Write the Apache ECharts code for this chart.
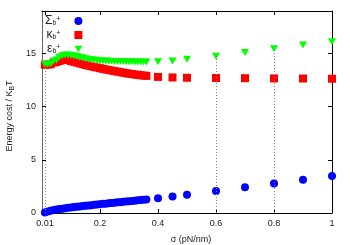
<!DOCTYPE html>
<html>
<head>
<meta charset="utf-8">
<script src="https://cdn.jsdelivr.net/npm/echarts@6/dist/echarts.min.js"></script>
<style>html,body{margin:0;padding:0;background:#fff}#c{width:350px;height:245px}</style>
</head>
<body>
<div id="c"></div>
<script>
const sigma = [0.01,0.02,0.03,0.04,0.05,0.06,0.07,0.08,0.09,0.10,0.11,0.12,0.13,0.14,0.15,0.16,0.17,0.18,0.19,0.20,0.21,0.22,0.23,0.24,0.25,0.26,0.27,0.28,0.29,0.30,0.31,0.32,0.33,0.34,0.35,0.36,0.40,0.45,0.50,0.60,0.70,0.80,0.90,1.00];
const sigmaB = [0.05,0.15,0.22,0.28,0.33,0.37,0.41,0.45,0.49,0.52,0.56,0.59,0.62,0.65,0.68,0.71,0.74,0.77,0.80,0.83,0.86,0.88,0.91,0.94,0.97,1.00,1.02,1.05,1.08,1.11,1.13,1.16,1.19,1.22,1.24,1.27,1.38,1.55,1.72,2.07,2.42,2.78,3.13,3.48];
const kappaB = [13.95,13.95,14.0,14.15,14.2,14.3,14.38,14.4,14.38,14.3,14.22,14.15,14.07,14.0,13.93,13.86,13.8,13.74,13.68,13.62,13.56,13.5,13.45,13.4,13.35,13.3,13.25,13.2,13.15,13.11,13.07,13.03,13.0,12.96,12.93,12.9,12.8,12.75,12.72,12.7,12.68,12.66,12.65,12.63];
const epsB = [14.0,14.0,14.05,14.3,14.4,14.65,14.78,14.85,14.85,14.82,14.78,14.72,14.66,14.6,14.52,14.46,14.42,14.38,14.35,14.32,14.3,14.3,14.28,14.27,14.26,14.25,14.24,14.24,14.23,14.22,14.22,14.21,14.21,14.2,14.2,14.2,14.22,14.3,14.45,14.75,15.1,15.45,15.8,16.1];
const xTicks = [0.01,0.2,0.4,0.6,0.8,1];
const yTicks = [0,5,10,15];
const dropX = [0.01,0.6,0.8];

const pts = arr => sigma.map((s,i)=>[s,arr[i]]);
const dropLines = dropX.map(x => {
  const i = sigma.indexOf(x);
  return [{coord:[x,0]},{coord:[x,epsB[i]]}];
});
const font = 'Liberation Sans, Arial, sans-serif';
const rich = {
  n:{fontSize:9,fontFamily:font,color:'#222'},
  g:{fontSize:12,lineHeight:11,fontFamily:font,color:'#222'},
  sub:{fontSize:7,lineHeight:7,fontFamily:font,color:'#222',verticalAlign:'bottom',padding:[4,0,0,0]},
  sup:{fontSize:7,lineHeight:7,fontFamily:font,color:'#222',verticalAlign:'top',padding:[0,9,4,0]},
  nsub:{fontSize:7,fontFamily:font,color:'#222',verticalAlign:'bottom',padding:[4,0,0,0]}
};
const legendText = {
  'Σb+':'{g|Σ}{sub|b}{sup|+}',
  'κb+':'{g|κ}{sub|b}{sup|+}',
  'εb+':'{g|ε}{sub|b}{sup|+}'
};
const chart = echarts.init(document.getElementById('c'), null, {renderer:'canvas'});
const axisCommon = {
  min:0, max:1, type:'value',
  axisLine:{show:true,onZero:false,lineStyle:{color:'#000',width:1}},
  splitLine:{show:false}
};
chart.setOption({
  animation:false,
  grid:{left:42,right:18,top:11,bottom:32,containLabel:false,outerBoundsMode:'none'},
  legend:{
    orient:'vertical', left:45, top:15, align:'right',
    itemWidth:8, itemHeight:8, itemGap:2, padding:0,
    data:[
      {name:'Σb+',icon:'circle'},
      {name:'κb+',icon:'rect'},
      {name:'εb+',icon:'path://M0,0 L10,0 L5,8 Z'}
    ],
    formatter: n => legendText[n],
    textStyle:{fontSize:12,rich:rich}
  },
  xAxis:[
    Object.assign({}, axisCommon, {
      position:'bottom',
      name:'σ (pN/nm)', nameLocation:'middle', nameGap:22,
      nameTextStyle:{fontSize:9,fontFamily:font,color:'#222',padding:[0,0,0,8]},
      axisTick:{show:true,inside:true,length:4,customValues:xTicks,lineStyle:{color:'#000'}},
      axisLabel:{show:true,customValues:xTicks,fontSize:9,fontFamily:font,color:'#222',margin:6,
        formatter: v => String(v)}
    }),
    Object.assign({}, axisCommon, {
      position:'top',
      axisTick:{show:true,inside:true,length:4,customValues:xTicks,lineStyle:{color:'#000'}},
      axisLabel:{show:false}
    })
  ],
  yAxis:[
    {type:'value',min:0,max:19,position:'left',
      axisLine:{show:true,onZero:false,lineStyle:{color:'#666',width:1}},
      splitLine:{show:false},
      axisTick:{show:true,inside:true,length:4,customValues:yTicks,lineStyle:{color:'#000'}},
      axisLabel:{show:true,customValues:yTicks,fontSize:9,fontFamily:font,color:'#222',margin:6},
      name:'{n|Energy cost / K}{nsub|B}{n|T}', nameLocation:'middle', nameGap:26, nameRotate:90,
      nameTextStyle:{rich:rich,padding:[0,8,0,0]}
    },
    {type:'value',min:0,max:19,position:'right',
      axisLine:{show:true,onZero:false,lineStyle:{color:'#000',width:1}},
      splitLine:{show:false},
      axisTick:{show:true,inside:true,length:4,customValues:yTicks,lineStyle:{color:'#000'}},
      axisLabel:{show:false}
    }
  ],
  series:[
    {name:'Σb+',type:'scatter',data:pts(sigmaB),symbol:'circle',symbolSize:8,
      itemStyle:{color:'#0000ff',opacity:1},
      markLine:{silent:true,symbol:'none',label:{show:false},
        lineStyle:{color:'#888',type:[1,2],width:1},data:dropLines},
      z:2},
    {name:'κb+',type:'scatter',data:pts(kappaB),symbol:'rect',symbolSize:8,
      itemStyle:{color:'#ff0000',opacity:1},z:3},
    {name:'εb+',type:'scatter',data:pts(epsB),symbol:'triangle',symbolRotate:180,symbolSize:[8,7],
      itemStyle:{color:'#00ff00',opacity:1},z:4}
  ]
});
</script>
</body>
</html>
